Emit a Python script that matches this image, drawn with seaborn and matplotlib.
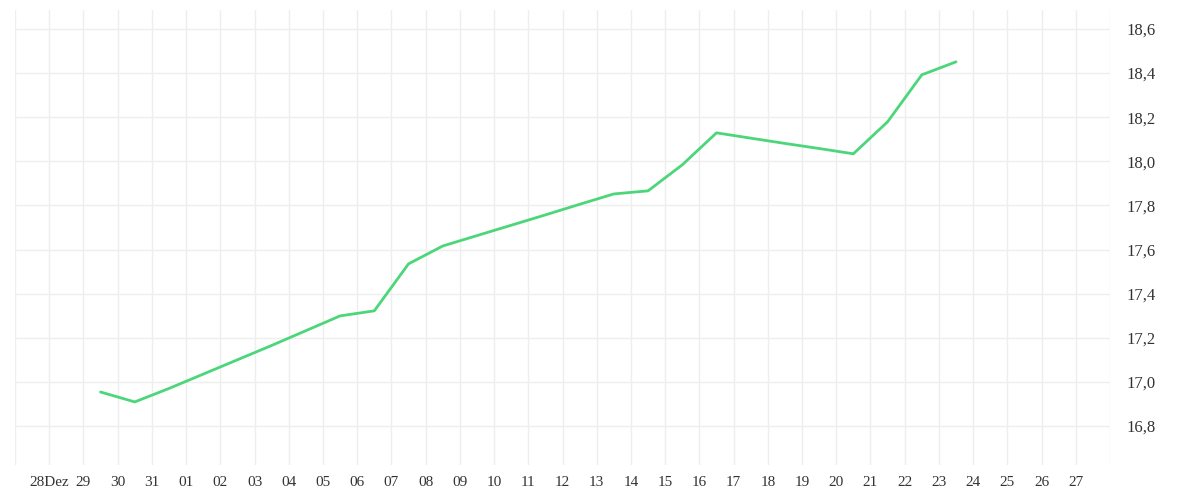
import matplotlib
matplotlib.use('Agg')
import matplotlib.pyplot as plt
import pandas as pd
import seaborn as sns

# data points at noon of each day
start_day = "2023-12-29 12:00"
values = [16.954, 16.909, 16.97, 17.035, 17.10, 17.165, 17.232, 17.299, 17.322,
          17.535, 17.616, 17.663, 17.71, 17.757, 17.805, 17.852, 17.866, 17.984,
          18.129, 18.105, 18.081, 18.058, 18.034, 18.179, 18.392, 18.451]

tick_days = pd.date_range("2023-12-28", "2024-01-27", freq="D")
tick_labels = ["28Dez"] + [d.strftime("%d") for d in tick_days[1:]]

df = pd.DataFrame({"datum": pd.date_range(start_day, periods=len(values), freq="D"),
                   "wert": values})

sns.set_style("white")
plt.rcParams['font.family'] = ['Liberation Serif', 'DejaVu Serif']

fig, ax = plt.subplots(figsize=(12, 5), dpi=100)
fig.subplots_adjust(left=0.0125, right=0.925, top=0.98, bottom=0.07)

sns.lineplot(data=df, x="datum", y="wert", color="#4cd67a", linewidth=2, ax=ax)

ax.set_xlim(pd.Timestamp("2023-12-27"), pd.Timestamp("2024-01-28"))
ax.set_ylim(16.623, 18.686)
ax.set_xticks(list(pd.date_range("2023-12-27", "2024-01-28", freq="D")))
ax.set_xticklabels([""] + tick_labels + [""])
ax.set_yticks([16.8, 17.0, 17.2, 17.4, 17.6, 17.8, 18.0, 18.2, 18.4, 18.6])
ax.set_yticklabels(["16,8", "17,0", "17,2", "17,4", "17,6", "17,8", "18,0", "18,2", "18,4", "18,6"])
ax.yaxis.tick_right()
ax.grid(True, color="#eeeeee", linewidth=1)
for s in ax.spines.values():
    s.set_visible(False)
ax.tick_params(axis='x', length=5, color="#dddddd", labelsize=11, labelcolor="#333333", pad=3)
ax.tick_params(axis='y', length=0, labelsize=12, labelcolor="#333333", pad=12)
ax.set_xlabel("")
ax.set_ylabel("")

plt.savefig("out.png", dpi=100)
